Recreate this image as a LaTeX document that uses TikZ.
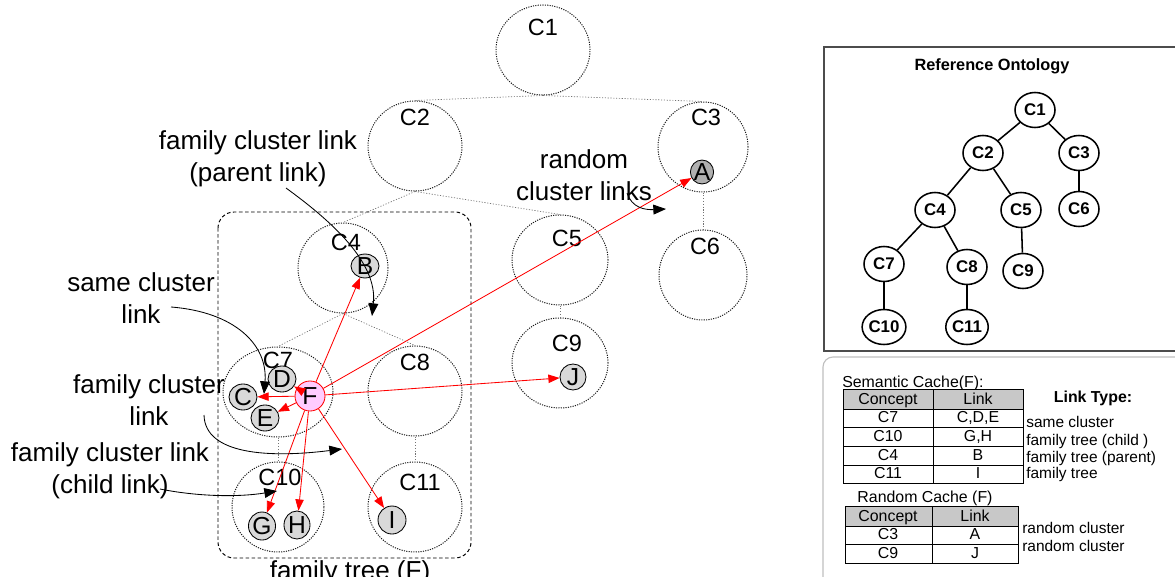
\documentclass[tikz,border=0pt]{standalone}
\usepackage{fontspec}
\setmainfont{Liberation Sans}
\usetikzlibrary{arrows.meta,shapes.geometric}
\definecolor{fpink}{HTML}{FFCCFF}
\definecolor{cellgray}{HTML}{C8C8C8}
\definecolor{itemgray}{HTML}{D9D9D9}
\definecolor{darkitem}{HTML}{B0B0B0}
\begin{document}
\begin{tikzpicture}[x=0.025cm, y=-0.025cm,
  cluster/.style={ellipse, draw=black!90, dash pattern=on 0.8pt off 0.9pt, line width=0.7pt,
    minimum width=2.35cm, minimum height=2.25cm, inner sep=0pt},
  clabel/.style={font=\fontsize{16.7}{20}\selectfont, inner sep=0pt},
  tie/.style={draw=black!55, dash pattern=on 0.8pt off 1.2pt, line width=0.5pt},
  item/.style={ellipse, draw=black, line width=0.6pt, fill=itemgray, minimum width=0.7cm,
    minimum height=0.65cm, inner sep=0pt, font=\fontsize{17.5}{20}\selectfont},
  hop/.style={draw=red, line width=0.6pt, -{Triangle[length=8pt,width=6pt]}},
  note/.style={align=center, font=\fontsize{18.5}{22.5}\selectfont, inner sep=0pt},
  pointer/.style={draw=black, line width=0.6pt, -{Triangle[length=9pt,width=7pt]}},
  onto/.style={ellipse, draw=black, line width=1.1pt, minimum width=1cm, minimum height=0.875cm,
    inner sep=0pt, font=\bfseries\fontsize{12}{14}\selectfont},
  cell/.style={anchor=base, inner sep=0pt, font=\fontsize{11.3}{13}\selectfont},
  kind/.style={anchor=base west, inner sep=0pt, font=\fontsize{11}{13}\selectfont},
]
  \useasboundingbox (0,0) rectangle (1175,577);

  % clusters of the semantic space
  \foreach \n/\x/\y/\lx/\ly/\w in {1/543/50/543/27/2.35, 2/415/146/415/117/2.35,
      3/703/147/706/117/2.25, 4/343/268/346/242/2.25, 5/560/260/567/238/2.4,
      6/703/275/705/246/2.2, 7/278/392/278/360/2.75, 8/415/391/415/362/2.35,
      9/560/363/567/343/2.4, 10/278/507/280/477/2.3, 11/415/507/420/482/2.35}
  {
    \node[cluster, minimum width=\w cm] (c\n) at (\x, \y) {};
    \node[clabel] (lc\n) at (\lx, \ly) {C\n};
  }
  \foreach \a/\b in {1/2, 1/3, 2/4, 2/5, 3/6, 4/7, 4/8, 5/9, 7/10, 8/11}
    \draw[tie] (c\a.south) -- (c\b.north);

  \draw[dashed, dash pattern=on 2.5pt off 1.8pt, line width=0.7pt, rounded corners=0.4cm]
    (218, 212) rectangle (471, 558);
  \node[note, anchor=base] (tree) at (350, 579) {family tree (F)};

  % concepts
  \node[item, fill=darkitem, minimum width=0.55cm, minimum height=0.55cm] (a) at (702, 172) {A};
  \node[item, minimum height=0.5cm] (b) at (365, 266) {B};
  \node[item] (c) at (243, 397) {C};
  \node[item] (d) at (282, 379) {D};
  \node[item] (e) at (265, 418) {E};
  \node[item, fill=fpink, draw=red, minimum width=0.75cm, minimum height=0.75cm] (f) at (310, 396) {F};
  \node[item, minimum width=0.65cm, minimum height=0.7cm] (g) at (262, 526) {G};
  \node[item, minimum width=0.65cm, minimum height=0.7cm] (h) at (297, 525) {H};
  \node[item, minimum width=0.7cm, minimum height=0.7cm] (i) at (392, 520) {I};
  \node[item, minimum width=0.65cm, minimum height=0.65cm] (j) at (573, 377) {J};

  \foreach \t in {a, b, c, d, e, g, h, i, j}
    \draw[hop] (f) -- (\t);

  % annotations
  \node[note] (parent) at (258, 159) {family cluster link\\(parent link)};
  \node[note] (same) at (141, 298) {same cluster\\link};
  \node[note] (family) at (149, 400) {family cluster\\link};
  \node[note] (child) at (110, 471) {family cluster link\\(child link)};
  \node[note] (random) at (584, 175) {random\\cluster links};

  \coordinate (p0) at (286, 188);  \coordinate (p1) at (372, 316);
  \coordinate (s0) at (171, 307);  \coordinate (s1) at (264, 394);
  \coordinate (f0) at (204, 415);  \coordinate (f1) at (342, 449);
  \coordinate (k0) at (160, 489);  \coordinate (k1) at (277, 491);
  \coordinate (r0) at (627, 193);  \coordinate (r1) at (666, 209);
  \draw[pointer] (p0) .. controls (330, 220) and (378, 262) .. (p1);
  \draw[pointer] (s0) .. controls (235, 312) and (268, 345) .. (s1);
  \draw[pointer] (f0) .. controls (205, 455) and (270, 458) .. (f1);
  \draw[pointer] (k0) .. controls (200, 497) and (240, 497) .. (k1);
  \draw[pointer] (r0) .. controls (632, 208) and (645, 210) .. (r1);

  % reference ontology
  \draw[draw=black!70, line width=0.9pt] (824, 47) rectangle (1190, 351);
  \node[font=\bfseries\fontsize{11.6}{14}\selectfont] (title) at (992, 66) {Reference Ontology};
  \foreach \n/\x/\y in {1/1035/110, 2/983/153, 3/1079/153, 4/935/210, 5/1021/210,
      6/1079/209, 7/884/264, 8/967/267, 9/1023/271, 10/884/327, 11/967/327}
    \node[onto] (o\n) at (\x, \y) {C\n};
  \foreach \a/\b in {1/2, 1/3, 2/4, 2/5, 3/6, 4/7, 4/8, 5/9, 7/10, 8/11}
    \draw[line width=1.1pt] (o\a) -- (o\b);

  % caches
  \draw[draw=black!25, line width=0.8pt, rounded corners=0.25cm] (823, 357) rectangle (1190, 590);

  \node[cell, anchor=base west] (sem) at (842, 387) {Semantic Cache(F):};
  \fill[cellgray] (843, 389) rectangle (1023, 409);
  \draw[line width=0.7pt] (843, 389) rectangle (1023, 483);
  \foreach \y in {409, 427, 446, 465}
    \draw[line width=0.7pt] (843, \y) -- (1023, \y);
  \draw[line width=0.7pt] (933, 389) -- (933, 483);
  \foreach[count=\i] \p/\q/\y in {Concept/Link/404, C7/{C,D,E}/422, C10/{G,H}/441, C4/B/460, C11/I/478}
  {
    \node[cell] (sa\i) at (888, \y) {\p};
    \node[cell] (sb\i) at (978, \y) {\q};
  }

  \node[cell] (rnd) at (925, 502) {Random Cache (F)};
  \fill[cellgray] (845, 506) rectangle (1018, 526);
  \draw[line width=0.7pt] (845, 506) rectangle (1018, 563);
  \foreach \y in {526, 544}
    \draw[line width=0.7pt] (845, \y) -- (1018, \y);
  \draw[line width=0.7pt] (932, 506) -- (932, 563);
  \foreach[count=\i] \p/\q/\y in {Concept/Link/521, C3/A/539, C9/J/558}
  {
    \node[cell] (ra\i) at (888, \y) {\p};
    \node[cell] (rb\i) at (975, \y) {\q};
  }

  \node[cell, font=\bfseries\fontsize{11.3}{13}\selectfont] (ltype) at (1093, 402) {Link Type:};
  \node[kind] (k1) at (1026, 427) {same cluster};
  \node[kind] (k2) at (1026, 445) {family tree (child )};
  \node[kind] (k3) at (1026, 462) {family tree (parent)};
  \node[kind] (k4) at (1026, 478) {family tree};
  \node[kind] (k5) at (1022, 533) {random cluster};
  \node[kind] (k6) at (1022, 551) {random cluster};
\end{tikzpicture}
\end{document}
